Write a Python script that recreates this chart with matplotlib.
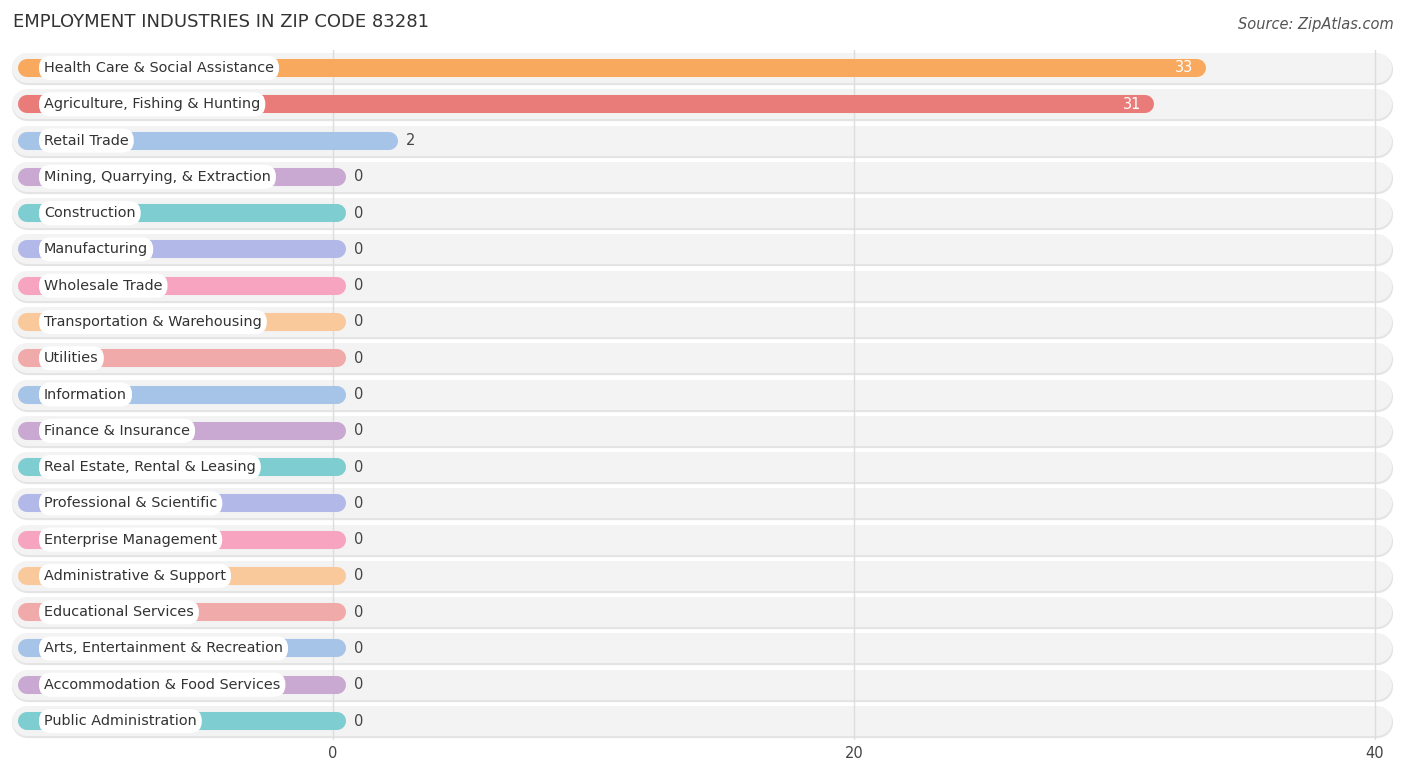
import matplotlib
matplotlib.use("Agg")
import matplotlib.pyplot as plt
import matplotlib.transforms as mtransforms

industries = [
    "Health Care & Social Assistance", "Agriculture, Fishing & Hunting", "Retail Trade",
    "Mining, Quarrying, & Extraction", "Construction", "Manufacturing", "Wholesale Trade",
    "Transportation & Warehousing", "Utilities", "Information", "Finance & Insurance",
    "Real Estate, Rental & Leasing", "Professional & Scientific", "Enterprise Management",
    "Administrative & Support", "Educational Services", "Arts, Entertainment & Recreation",
    "Accommodation & Food Services", "Public Administration",
]
values = [33, 31, 2, 0, 0, 0, 0, 0, 0, 0, 0, 0, 0, 0, 0, 0, 0, 0, 0]
palette = ["#f8a95e", "#e97b78", "#a6c3e8", "#c9a9d1", "#7ecdd1", "#b2b8e8",
           "#f6a4c0", "#f9c99c", "#f0aaa9"]
colors = [palette[0], palette[1]] + [palette[2:][i % 7] for i in range(len(industries) - 2)]
ticks = [0, 20, 40]

W, H = 1406, 776
fig = plt.figure(figsize=(W / 100, H / 100), dpi=100)
px = 26.05  # pixels per unit
x0 = 333
ax = fig.add_axes([12 / W, 1 - 740 / H, (1395 - 12) / W, 690 / H])
ax.set_xlim((12 - x0) / px, (1395 - x0) / px)
row_h = 36.28
top = 68
ax.set_ylim(740, 50)

for t in ticks:
    ax.axvline(t, color="#dddddd", lw=1, zorder=1)

for i, (name, v, c) in enumerate(zip(industries, values, colors)):
    y = top + i * row_h
    r_bg = 15 / px
    ax.plot([(12 - x0) / px + r_bg, (1392 - x0) / px - r_bg], [y + 1, y + 1], lw=22.5,
            color="#e4e4e4", solid_capstyle="round", zorder=0)
    ax.plot([(12 - x0) / px + r_bg, (1392 - x0) / px - r_bg], [y, y], lw=21.6,
            color="#f3f3f3", solid_capstyle="round", zorder=0.5)
    r = 9 / px
    start = (18 - x0) / px
    end = v + 0.5
    ax.plot([start + r, end - r], [y, y], lw=13, color=c, solid_capstyle="round", zorder=2)
    ax.text((44 - x0) / px, y, name, ha="left", va="center", fontsize=10.4, color="#333333",
            zorder=4, bbox=dict(boxstyle="round,pad=0.35,rounding_size=0.8", fc="white", ec="none"))
    if v > 10:
        ax.text(end - 12 / px, y, str(v), ha="right", va="center", fontsize=10.5,
                color="white", zorder=4)
    else:
        ax.text(end + 8 / px, y, str(v), ha="left", va="center", fontsize=10.5,
                color="#444444", zorder=4)

ax.set_xticks(ticks)
ax.set_xticklabels([str(t) for t in ticks], fontsize=10.5, color="#444444")
shift = mtransforms.ScaledTranslation(-12 / 100, 0, fig.dpi_scale_trans)
for lbl in ax.get_xticklabels():
    lbl.set_transform(lbl.get_transform() + shift)
ax.tick_params(axis="x", length=0, pad=4)
ax.set_yticks([])
for s in ax.spines.values():
    s.set_visible(False)

fig.text(13 / W, 1 - 22 / H, "EMPLOYMENT INDUSTRIES IN ZIP CODE 83281", fontsize=13,
         color="#333333", va="center", ha="left")
fig.text(1394 / W, 1 - 25 / H, "Source: ZipAtlas.com", fontsize=10.5, color="#555555",
         va="center", ha="right", style="italic")

fig.savefig("out.png", dpi=100)
